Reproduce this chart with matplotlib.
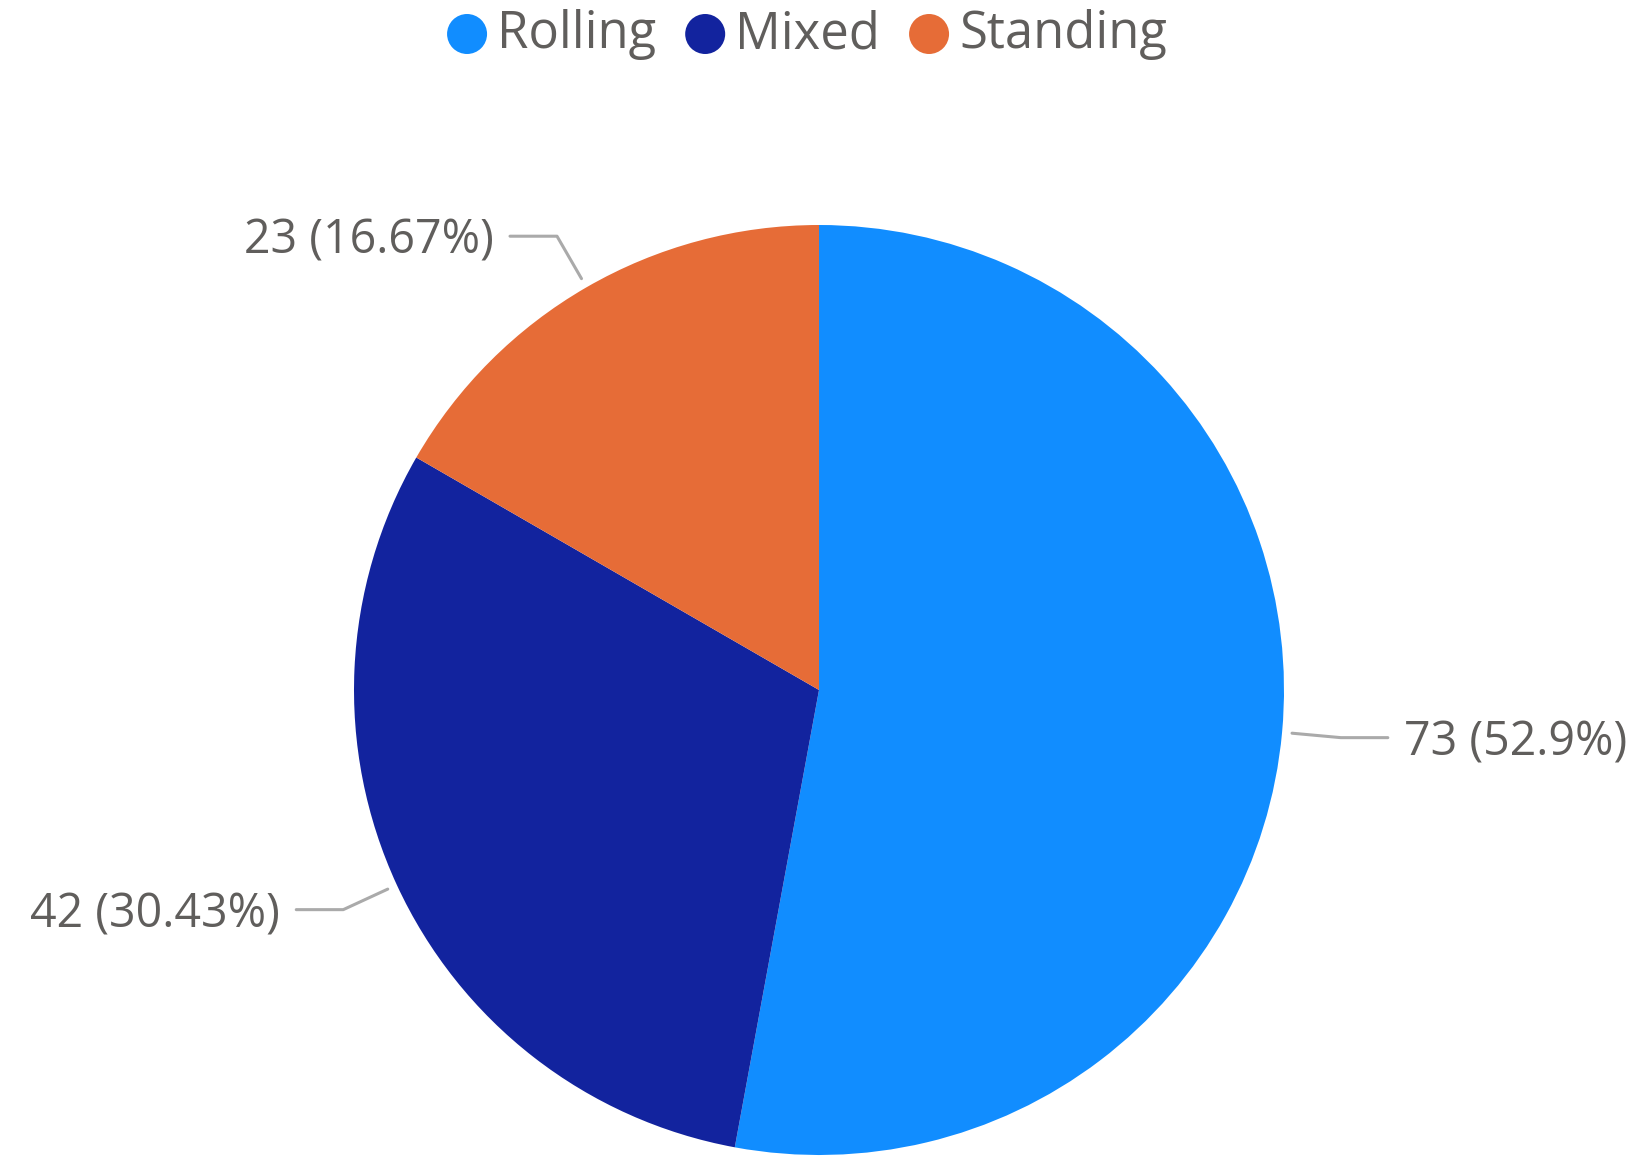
import matplotlib
matplotlib.use("Agg")
import matplotlib.pyplot as plt
import numpy as np

categories = ["Rolling", "Mixed", "Standing"]
values = [73, 42, 23]
colors = ["#118DFF", "#12239E", "#E66C37"]

TEXT = "#605E5C"
LINE = "#AAAAAA"
FONT = ["Open Sans", "DejaVu Sans"]
FS = 33.5
LFS = 36.5

W, H = 1640, 1170
fig = plt.figure(figsize=(16.4, 11.7), dpi=100)
ax = fig.add_axes([0, 0, 1, 1])
cx, cy, R = 819, H - 690, 465
wedges, _ = ax.pie(values, colors=colors, startangle=90, counterclock=False,
                   center=(cx, cy), radius=R, wedgeprops=dict(linewidth=0))
ax.set_xlim(0, W)
ax.set_ylim(0, H)
ax.set_aspect("equal")
ax.axis("off")

total = sum(values)
for w, v in zip(wedges, values):
    ang = np.deg2rad((w.theta1 + w.theta2) / 2)
    d = np.array([np.cos(ang), np.sin(ang)])
    p0 = np.array([cx, cy]) + d * (R + 10)
    p1 = np.array([cx, cy]) + d * (R + 59)
    s = 1 if d[0] >= 0 else -1
    p2 = p1 + np.array([s * 47, 0])
    ax.plot([p0[0], p1[0], p2[0]], [p0[1], p1[1], p2[1]], color=LINE, lw=2.2,
            solid_capstyle="round", solid_joinstyle="round")
    pct = f"{100 * v / total:.2f}".rstrip("0").rstrip(".")
    ax.text(p2[0] + s * 16, p2[1] - 5, f"{v} ({pct}%)", ha="left" if s > 0 else "right",
            va="center", fontsize=FS, color=TEXT, family=FONT)

# legend
fig.canvas.draw()
renderer = fig.canvas.get_renderer()
ly = H - 35
items = []
for c, name in zip(colors, categories):
    t = ax.text(0, ly, name, fontsize=LFS, color=TEXT, family=FONT, ha="left", va="center")
    bb = t.get_window_extent(renderer)
    items.append((c, t, bb.width))
dot_r = 20
gap_dot = 12
gap_item = 27
total_w = sum(2 * dot_r + gap_dot + wdt for _, _, wdt in items) + gap_item * (len(items) - 1)
x = 808 - total_w / 2
for c, t, wdt in items:
    ax.add_patch(plt.Circle((x + dot_r, ly + 1), dot_r, color=c, lw=0))
    t.set_x(x + 2 * dot_r + gap_dot - 2)
    x += 2 * dot_r + gap_dot + wdt + gap_item

fig.savefig("out.png", dpi=100)
